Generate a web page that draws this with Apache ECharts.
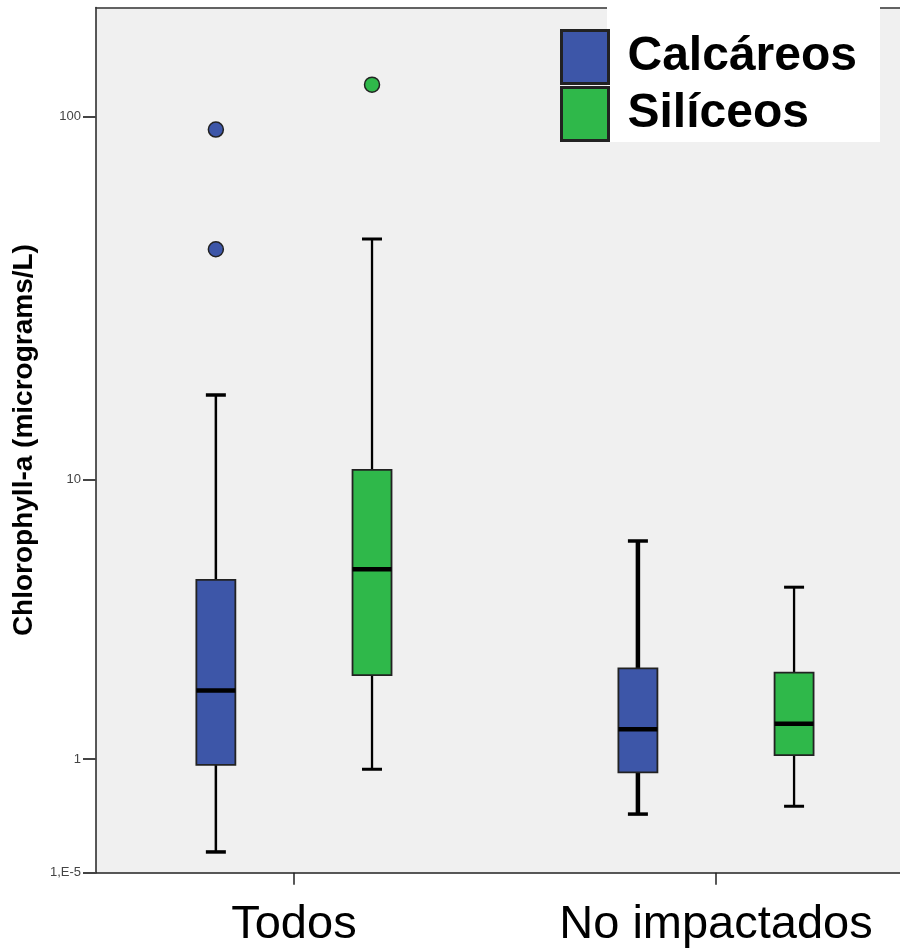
<!DOCTYPE html>
<html><head><meta charset="utf-8">
<script src="https://cdn.jsdelivr.net/npm/echarts@6/dist/echarts.min.js"></script>
<style>html,body{margin:0;padding:0;background:#fff}#c{width:900px;height:950px}</style>
</head><body><div id="c"></div>
<script>
// ---- data ----
const categories = ['Todos', 'No impactados'];
const seriesNames = ['Calcáreos', 'Silíceos'];
// [min, Q1, median, Q3, max] per category
const calcareosBox = [[0.135, 0.93, 2.04, 4.97, 17.45], [0.43, 0.845, 1.40, 2.48, 6.57]];
const siliceosBox = [[0.88, 2.34, 5.37, 10.68, 46.8], [0.50, 1.05, 1.48, 2.39, 4.71]];
// [category index, value]
const calcareosOutliers = [[0, 92.2], [0, 43.9]];
const siliceosOutliers = [[0, 121.6]];
const yTickValues = [0.00001, 1, 10, 100];
const yTickLabels = ['1,E-5', '1', '10', '100'];
const yMax = 195.3;

// ---- style ----
const colors = ['#3d56a8', '#2fb84a'];
const groupOffset = 0.185;       // horizontal shift of each series within a category
const xMin = -0.469, xMax = 1.436;
const whiskerWidths = [[2.5, 4.5], [2.3, 2.3]];
const capWidths = [[3.5, 3.5], [3, 3]];
const FONT = '"Liberation Sans", Arial, sans-serif';

// SPSS-like axis transform: log10(v + 1)
const tr = v => Math.log10(v + 1);
const yTicksT = yTickValues.map(tr);

function boxData(arr, side) {
  return arr.map((b, i) => [i + side * groupOffset].concat(b.map(tr)));
}
function outlierData(arr, side) {
  return arr.map(o => [o[0] + side * groupOffset, tr(o[1])]);
}

function makeRender(sIdx) {
  return function (params, api) {
    const x = api.value(0);
    const lo = api.coord([x, api.value(1)]);
    const q1 = api.coord([x, api.value(2)]);
    const md = api.coord([x, api.value(3)]);
    const q3 = api.coord([x, api.value(4)]);
    const hi = api.coord([x, api.value(5)]);
    const cx = lo[0];
    const hw = 19.5, cw = 10;
    const ww = whiskerWidths[sIdx][params.dataIndex];
    const cwid = capWidths[sIdx][params.dataIndex];
    return {
      type: 'group',
      children: [
        {type: 'line', shape: {x1: cx, y1: hi[1], x2: cx, y2: q3[1]}, style: {stroke: '#000', lineWidth: ww}},
        {type: 'line', shape: {x1: cx, y1: q1[1], x2: cx, y2: lo[1]}, style: {stroke: '#000', lineWidth: ww}},
        {type: 'line', shape: {x1: cx - cw, y1: hi[1], x2: cx + cw, y2: hi[1]}, style: {stroke: '#000', lineWidth: cwid}},
        {type: 'line', shape: {x1: cx - cw, y1: lo[1], x2: cx + cw, y2: lo[1]}, style: {stroke: '#000', lineWidth: cwid}},
        {type: 'rect', shape: {x: cx - hw, y: q3[1], width: hw * 2, height: q1[1] - q3[1]},
         style: {fill: colors[sIdx], stroke: '#222', lineWidth: 1.8}},
        {type: 'line', shape: {x1: cx - hw, y1: md[1], x2: cx + hw, y2: md[1]}, style: {stroke: '#000', lineWidth: 4.5}}
      ]
    };
  };
}

const chart = echarts.init(document.getElementById('c'), null, {renderer: 'canvas'});
chart.setOption({
  animation: false,
  backgroundColor: '#fff',
  grid: {left: 96, top: 7.5, right: 0, height: 865.2, show: true,
         backgroundColor: '#f0f0f0', borderWidth: 0},
  graphic: [{type: 'rect', left: 607, top: 6, z: 3, shape: {width: 273, height: 136},
             style: {fill: '#fff'}}],
  legend: {
    orient: 'vertical', left: 560, top: 29, padding: 0, itemWidth: 47, itemHeight: 53, itemGap: 1,
    icon: 'rect', selectedMode: false, z: 6,
    data: [
      {name: seriesNames[0], itemStyle: {color: colors[0], borderColor: '#222', borderWidth: 3}},
      {name: seriesNames[1], itemStyle: {color: colors[1], borderColor: '#222', borderWidth: 3}}
    ],
    textStyle: {fontSize: 48, fontWeight: 'bold', color: '#000', fontFamily: FONT, padding: [0, 0, 32, 14]}
  },
  xAxis: [{
    type: 'value', min: xMin, max: xMax,
    axisLine: {show: true, onZero: false, lineStyle: {color: '#222', width: 1.5}},
    splitLine: {show: false},
    axisTick: {show: true, length: 12, customValues: [0, 1], lineStyle: {color: '#222', width: 1.5}},
    axisLabel: {customValues: [0, 1], formatter: v => categories[Math.round(v)],
                fontSize: 47, color: '#000', margin: 29, fontFamily: FONT}
  }, {
    type: 'value', position: 'top', min: xMin, max: xMax,
    axisLine: {show: true, onZero: false, lineStyle: {color: '#333', width: 1.5}},
    axisTick: {show: false}, axisLabel: {show: false}, splitLine: {show: false}
  }],
  yAxis: {
    type: 'value', min: 0, max: tr(yMax),
    name: 'Chlorophyll-a (micrograms/L)', nameLocation: 'middle', nameGap: 58,
    nameTextStyle: {fontSize: 28, fontWeight: 'bold', color: '#000', fontFamily: FONT},
    axisLine: {show: true, onZero: false, lineStyle: {color: '#222', width: 1.5}},
    splitLine: {show: false},
    axisTick: {show: true, length: 13, customValues: yTicksT, lineStyle: {color: '#444', width: 2}},
    axisLabel: {customValues: yTicksT, fontSize: 13, color: '#444', margin: 15, fontFamily: FONT,
      formatter: v => {
        let best = 0;
        yTicksT.forEach((t, i) => { if (Math.abs(t - v) < Math.abs(yTicksT[best] - v)) best = i; });
        return yTickLabels[best];
      }}
  },
  series: [
    {name: seriesNames[0], type: 'custom', renderItem: makeRender(0), data: boxData(calcareosBox, -1),
     encode: {x: 0, y: [1, 2, 3, 4, 5]}, itemStyle: {color: colors[0]}, z: 2},
    {name: seriesNames[1], type: 'custom', renderItem: makeRender(1), data: boxData(siliceosBox, 1),
     encode: {x: 0, y: [1, 2, 3, 4, 5]}, itemStyle: {color: colors[1]}, z: 2},
    {name: seriesNames[0], type: 'scatter', data: outlierData(calcareosOutliers, -1), symbolSize: 15,
     itemStyle: {color: colors[0], borderColor: '#222', borderWidth: 1.5, opacity: 1}, z: 3},
    {name: seriesNames[1], type: 'scatter', data: outlierData(siliceosOutliers, 1), symbolSize: 15,
     itemStyle: {color: colors[1], borderColor: '#222', borderWidth: 1.5, opacity: 1}, z: 3}
  ]
});
</script></body></html>
